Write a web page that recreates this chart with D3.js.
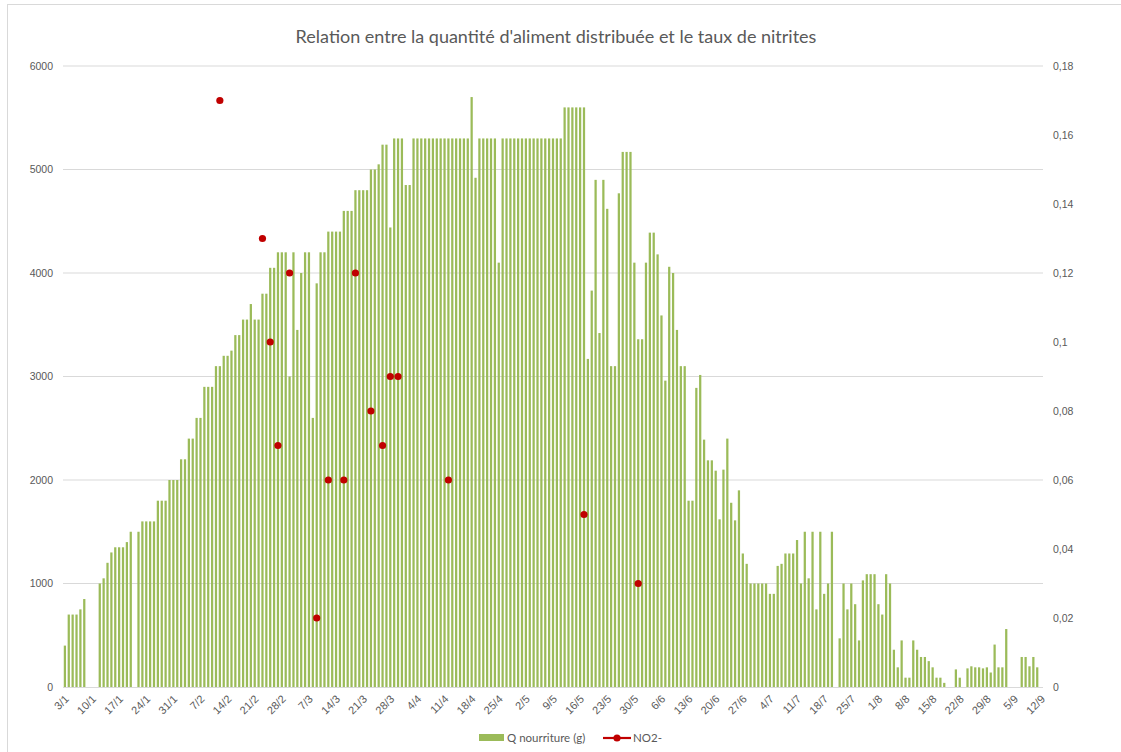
<!DOCTYPE html>
<html>
<head>
<meta charset="utf-8">
<script src="https://cdn.jsdelivr.net/npm/d3@7"></script>
<style>
  body { margin: 0; background: #fff; }
  svg { font-family: Lato, "Open Sans", sans-serif; }
</style>
</head>
<body>
<div id="viz"></div>
<script>
// daily food quantity (g), 3/1 -> 12/9, null = no distribution
const food = [
  400, 700, 700, 700, 750, 850, null, null, null, 1000,
  1050, 1200, 1300, 1350, 1350, 1350, 1400, 1500, null, 1500,
  1600, 1600, 1600, 1600, 1800, 1800, 1800, 2000, 2000, 2000,
  2200, 2200, 2400, 2400, 2600, 2600, 2900, 2900, 2900, 3100,
  3100, 3200, 3200, 3250, 3400, 3400, 3550, 3550, 3700, 3550,
  3550, 3800, 3800, 4050, 4050, 4200, 4200, 4200, 3000, 4200,
  3450, 4000, 4200, 4200, 2600, 3900, 4200, 4200, 4400, 4400,
  4400, 4400, 4600, 4600, 4600, 4800, 4800, 4800, 4800, 5000,
  5000, 5050, 5240, 5240, 4440, 5300, 5300, 5300, 4850, 4850,
  5300, 5300, 5300, 5300, 5300, 5300, 5300, 5300, 5300, 5300,
  5300, 5300, 5300, 5300, 5300, 5700, 4920, 5300, 5300, 5300,
  5300, 5300, 4100, 5300, 5300, 5300, 5300, 5300, 5300, 5300,
  5300, 5300, 5300, 5300, 5300, 5300, 5300, 5300, 5300, 5600,
  5600, 5600, 5600, 5600, 5600, 3170, 3830, 4900, 3420, 4900,
  4620, 3100, 3100, 4770, 5170, 5170, 5170, 4100, 3360, 3360,
  4100, 4390, 4390, 4180, 3590, 2960, 4060, 4000, 3450, 3100,
  3100, 1800, 1800, 2890, 3015, 2390, 2190, 2190, 2090, 1620,
  2100, 2400, 1780, 1610, 1900, 1290, 1190, 1000, 1000, 1000,
  1000, 1000, 900, 900, 1170, 1190, 1290, 1290, 1290, 1420,
  1000, 1500, 1050, 1500, 750, 1500, 900, 1000, 1500, null,
  470, 1000, 750, 1000, 800, 450, 1030, 1090, 1090, 1090,
  800, 700, 1090, 1000, 360, 190, 450, 90, 90, 450,
  360, 290, 290, 250, 190, 90, 90, 40, null, null,
  170, 90, null, 180, 200, 190, 190, 180, 190, 140,
  410, 190, 190, 560, null, null, null, 290, 290, 200,
  290, 190, null
];

// nitrite measurements (NO2-)
const nitriteDates = ["12/2", "23/2", "25/2", "27/2", "2/3", "9/3", "12/3", "16/3",
  "19/3", "23/3", "26/3", "28/3", "30/3", "12/4", "17/5", "31/5"];
const nitriteValues = [0.17, 0.13, 0.10, 0.07, 0.12, 0.02, 0.06, 0.06,
  0.12, 0.08, 0.07, 0.09, 0.09, 0.06, 0.05, 0.03];

const leftTicks = [0, 1000, 2000, 3000, 4000, 5000, 6000];
const rightTicks = [0, 0.02, 0.04, 0.06, 0.08, 0.1, 0.12, 0.14, 0.16, 0.18];

const days = d3.timeDay.range(new Date(2021, 0, 3), new Date(2021, 8, 13));
const dayLabel = d => `${d.getDate()}/${d.getMonth() + 1}`;
const labels = days.map(dayLabel);

const W = 1121, H = 752;
const m = {left: 63, right: 1043, top: 66, bottom: 687};
const grey = "#595959";

const svg = d3.select("#viz").append("svg")
  .attr("width", W)
  .attr("height", H);

svg.append("rect")
  .attr("x", 7.5).attr("y", 4.5)
  .attr("width", W + 20).attr("height", H + 20)
  .attr("fill", "none")
  .attr("stroke", "#d9d9d9");

const x = d3.scaleBand()
  .domain(d3.range(days.length))
  .range([m.left, m.right])
  .paddingInner(0.42)
  .paddingOuter(0.2);

const y = d3.scaleLinear().domain([0, 6000]).range([m.bottom, m.top]);
const y2 = d3.scaleLinear().domain([0, 0.18]).range([m.bottom, m.top]);

// gridlines
svg.append("g")
  .selectAll("line")
  .data(leftTicks.slice(1))
  .enter()
  .append("line")
  .attr("x1", m.left).attr("x2", m.right)
  .attr("y1", d => y(d)).attr("y2", d => y(d))
  .attr("stroke", "#d9d9d9");

// bars
svg.append("g")
  .selectAll("rect")
  .data(food.map((v, i) => ({i, v})).filter(d => d.v != null))
  .enter()
  .append("rect")
  .attr("x", d => x(d.i))
  .attr("y", d => y(d.v))
  .attr("width", x.bandwidth())
  .attr("height", d => y(0) - y(d.v))
  .attr("fill", "#9bbb59");

// baseline
svg.append("line")
  .attr("x1", m.left).attr("x2", m.right)
  .attr("y1", m.bottom + 0.5).attr("y2", m.bottom + 0.5)
  .attr("stroke", "#d9d9d9");

// left axis
const yAxis = svg.append("g")
  .attr("transform", `translate(${m.left},0)`)
  .call(d3.axisLeft(y).tickValues(leftTicks).tickSize(0).tickPadding(10)
    .tickFormat(d3.format("d")));
yAxis.select(".domain").remove();
yAxis.selectAll("text").attr("fill", grey).style("font-size", "10.5px");

// right axis
const y2Axis = svg.append("g")
  .attr("transform", `translate(${m.right},0)`)
  .call(d3.axisRight(y2).tickValues(rightTicks).tickSize(0).tickPadding(10)
    .tickFormat(d => String(+d.toFixed(2)).replace(".", ",")));
y2Axis.select(".domain").remove();
y2Axis.selectAll("text").attr("fill", grey).style("font-size", "10.5px");

// bottom axis, one label per week
const weekIdx = d3.range(0, days.length, 7);
const xAxis = svg.append("g")
  .attr("transform", `translate(0,${m.bottom})`)
  .call(d3.axisBottom(x).tickValues(weekIdx).tickSize(0).tickFormat(i => labels[i]));
xAxis.select(".domain").remove();
xAxis.selectAll("text")
  .attr("fill", grey)
  .style("font-size", "11px")
  .attr("text-anchor", "end")
  .attr("dy", "0.35em")
  .attr("transform", "translate(2,10) rotate(-45)")
  .attr("y", 0).attr("x", 0);

// nitrite points
svg.append("g")
  .selectAll("circle")
  .data(nitriteDates.map((d, k) => ({i: labels.indexOf(d), v: nitriteValues[k]})))
  .enter()
  .append("circle")
  .attr("cx", d => x(d.i) + x.bandwidth() / 2)
  .attr("cy", d => y2(d.v))
  .attr("r", 3.6)
  .attr("fill", "#c00000");

// title
svg.append("text")
  .attr("x", 556).attr("y", 43)
  .attr("text-anchor", "middle")
  .attr("fill", grey)
  .style("font-size", "18px")
  .text("Relation entre la quantité d'aliment distribuée et le taux de nitrites");

// legend
const lg = svg.append("g").attr("transform", "translate(0,738)");
lg.append("rect")
  .attr("x", 479).attr("y", -4)
  .attr("width", 25).attr("height", 7)
  .attr("fill", "#9bbb59");
lg.append("text")
  .attr("x", 507).attr("y", 0).attr("dy", "0.35em")
  .attr("fill", grey).style("font-size", "11.5px")
  .text("Q nourriture (g)");
lg.append("line")
  .attr("x1", 603).attr("x2", 631)
  .attr("y1", 0).attr("y2", 0)
  .attr("stroke", "#c00000").attr("stroke-width", 2.2);
lg.append("circle")
  .attr("cx", 617).attr("cy", 0).attr("r", 3.6)
  .attr("fill", "#c00000");
lg.append("text")
  .attr("x", 633).attr("y", 0).attr("dy", "0.35em")
  .attr("fill", grey).style("font-size", "11.5px")
  .text("NO2-");
</script>
</body>
</html>
